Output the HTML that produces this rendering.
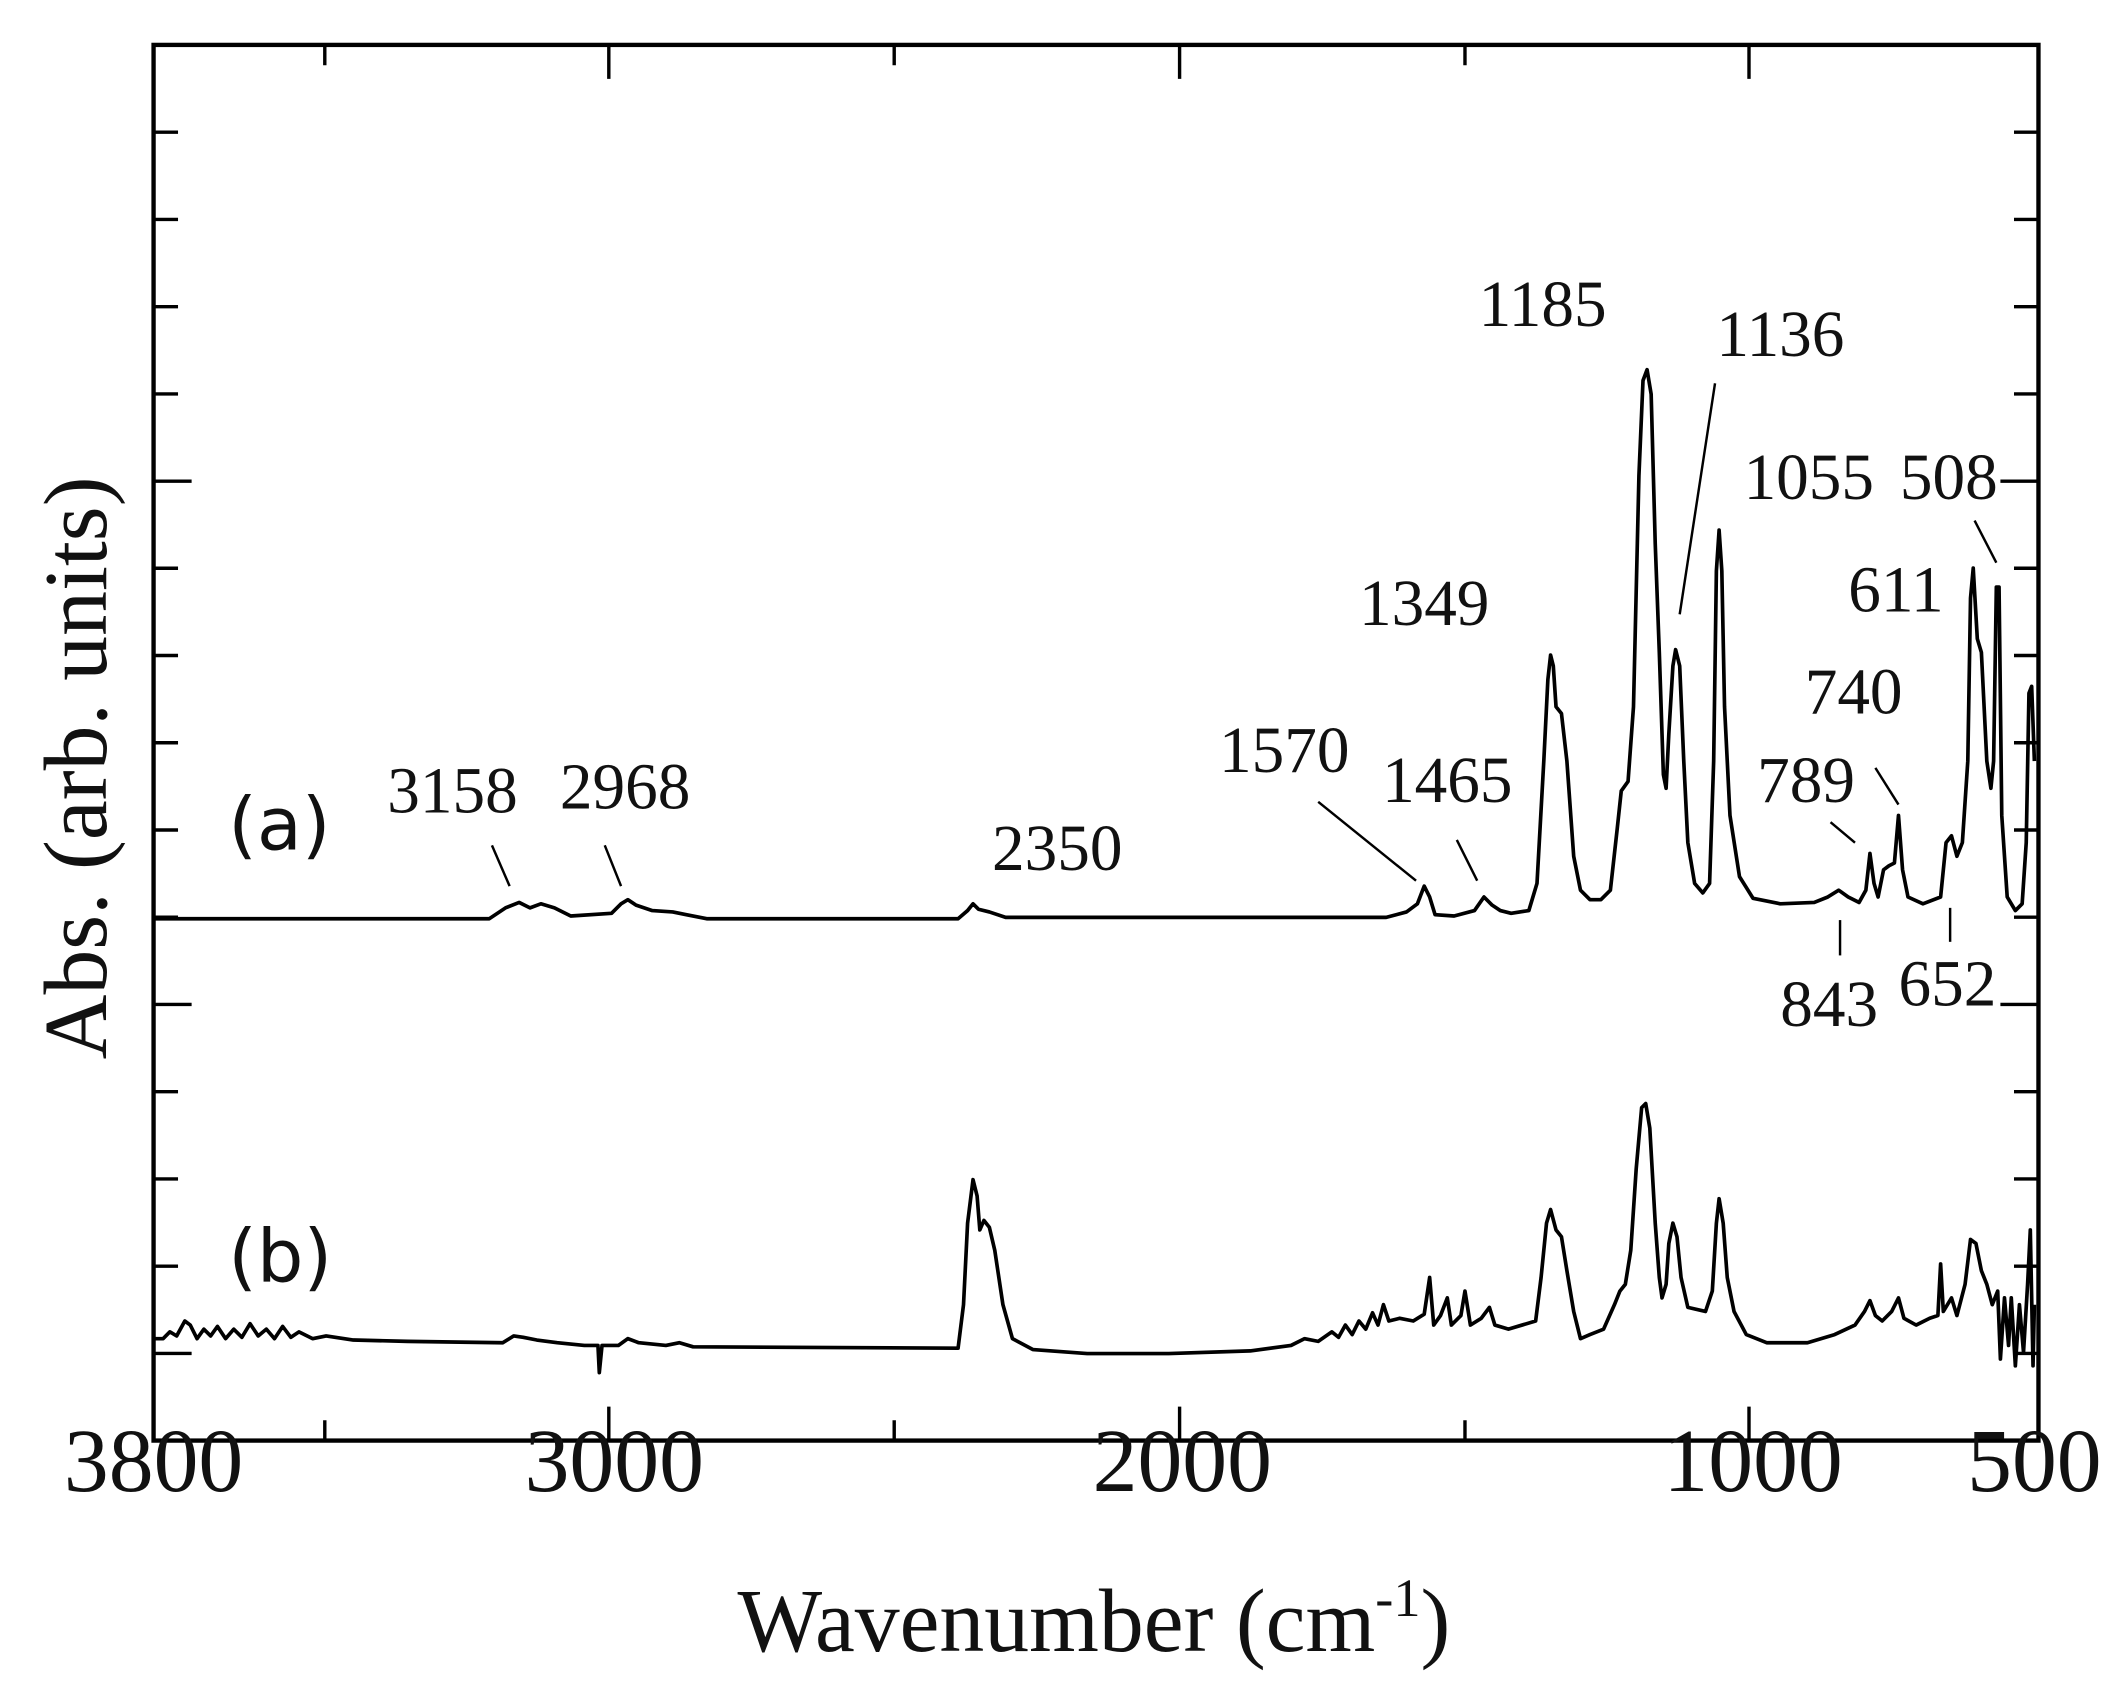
<!DOCTYPE html>
<html><head><meta charset="utf-8"><style>
html,body{margin:0;padding:0;background:#fff}
svg{display:block}
.s{font-family:"Liberation Serif",serif;fill:#111}
.d{font-family:"DejaVu Sans",sans-serif;fill:#111}
</style></head><body>
<svg width="2120" height="1707" viewBox="0 0 1560 1256" xmlns="http://www.w3.org/2000/svg">
<rect x="113" y="33" width="1387" height="1027" fill="none" stroke="#000" stroke-width="3.2"/>
<g stroke="#000" stroke-width="2.5">
<path d="M113 97.2h18M113 161.4h18M113 225.6h18M113 289.8h18M113 354h28M113 418.1h18M113 482.3h18M113 546.5h18M113 610.7h18M113 674.9h18M113 739.1h28M113 803.3h18M113 867.5h18M113 931.7h18M113 995.9h28"/>
<path d="M1500 97.2h-18M1500 161.4h-18M1500 225.6h-18M1500 289.8h-18M1500 354h-28M1500 418.1h-18M1500 482.3h-18M1500 546.5h-18M1500 610.7h-18M1500 674.9h-18M1500 739.1h-28M1500 803.3h-18M1500 867.5h-18M1500 931.7h-18M1500 995.9h-18"/>
<path d="M239 1060v-15M448 1060v-25M658 1060v-15M868 1060v-25M1078 1060v-15M1287 1060v-25M239 33v15M448 33v25M658 33v15M868 33v25M1078 33v15M1287 33v25"/>
</g>
<path fill="none" stroke="#000" stroke-width="2.7" stroke-linejoin="round" d="M113 676 L360 676 L372 668 L382 664 L390 668 L398 665 L408 668 L420 674 L450 672 L457 665 L462 662 L468 666 L480 670 L495 671 L505 673 L520 676 L705 676 L712 670 L716 665 L720 669 L728 671 L740 675 L1020 675 L1035 671 L1043 665 L1048 652 L1052 660 L1056 673 L1070 674 L1085 670 L1092 660 L1098 666 L1104 670 L1112 672 L1125 670 L1131 650 L1136 560 L1139 500 L1141 482 L1143 490 L1145 520 L1149 525 L1153 560 L1158 630 L1163 655 L1170 662 L1178 662 L1185 655 L1190 610 L1193 582 L1198 575 L1202 520 L1206 350 L1209 280 L1212 272 L1215 290 L1218 400 L1221 480 L1224 570 L1226 580 L1228 540 L1231 490 L1233 478 L1236 490 L1239 560 L1242 620 L1247 650 L1253 657 L1258 650 L1261 560 L1263 420 L1265 390 L1267 420 L1269 520 L1273 600 L1280 645 L1290 661 L1310 665 L1335 664 L1345 660 L1353 655 L1360 660 L1368 664 L1373 655 L1376 628 L1379 650 L1382 660 L1386 640 L1390 637 L1394 635 L1397 600 L1400 640 L1404 660 L1415 665 L1428 660 L1432 620 L1436 615 L1440 630 L1444 620 L1448 560 L1450 440 L1452 418 L1455 470 L1458 480 L1462 560 L1465 580 L1467 560 L1469 432 L1471 432 L1473 600 L1477 660 L1483 670 L1488 665 L1491 620 L1493 510 L1495 505 L1497 560"/>
<path fill="none" stroke="#000" stroke-width="2.7" stroke-linejoin="round" d="M113 985 L120 985 L125 980 L130 983 L136 972 L140 975 L145 985 L150 978 L155 983 L160 976 L166 985 L172 978 L178 984 L184 974 L190 983 L196 978 L202 985 L208 976 L214 984 L220 980 L230 985 L240 983 L260 986 L300 987 L370 988 L378 983 L385 984 L395 986 L410 988 L430 990 L440 990 L441 1010 L443 990 L455 990 L462 985 L470 988 L490 990 L500 988 L510 991 L705 992 L709 960 L712 900 L716 868 L719 880 L721 905 L724 898 L728 903 L732 920 L738 960 L745 985 L760 993 L800 996 L860 996 L920 994 L950 990 L960 985 L970 987 L980 980 L985 984 L990 975 L995 982 L1000 972 L1005 978 L1010 966 L1014 975 L1018 960 L1022 972 L1030 970 L1040 972 L1048 967 L1052 940 L1055 975 L1060 968 L1065 955 L1068 975 L1075 968 L1078 950 L1082 975 L1090 970 L1096 962 L1100 975 L1110 978 L1120 975 L1130 972 L1134 940 L1138 900 L1141 890 L1145 905 L1149 910 L1153 935 L1158 965 L1163 985 L1170 982 L1180 978 L1188 960 L1192 950 L1196 945 L1200 920 L1204 860 L1208 815 L1211 812 L1214 830 L1218 900 L1221 940 L1223 955 L1226 945 L1228 915 L1231 900 L1234 910 L1237 940 L1242 962 L1255 965 L1260 950 L1263 900 L1265 882 L1268 900 L1271 940 L1276 965 L1285 982 L1300 988 L1330 988 L1350 982 L1365 975 L1372 965 L1376 957 L1380 968 L1385 972 L1392 965 L1397 955 L1401 970 L1410 975 L1420 970 L1426 968 L1428 930 L1430 965 L1436 955 L1440 968 L1446 945 L1450 912 L1454 915 L1458 935 L1462 945 L1466 960 L1470 950 L1472 1000 L1475 955 L1478 990 L1480 955 L1483 1005 L1486 960 L1489 995 L1492 945 L1494 905 L1496 1005 L1497 960"/>
<g stroke="#000" stroke-width="1.8">
<line x1="362" y1="622" x2="375" y2="652"/><line x1="445" y1="622" x2="457" y2="652"/>
<line x1="970" y1="590" x2="1042" y2="648"/><line x1="1072" y1="618" x2="1087" y2="648"/>
<line x1="1262" y1="282" x2="1236" y2="452"/><line x1="1453" y1="383" x2="1469" y2="414"/>
<line x1="1380" y1="565" x2="1397" y2="592"/><line x1="1347" y1="605" x2="1365" y2="620"/>
<line x1="1354" y1="677" x2="1354" y2="703"/><line x1="1435" y1="668" x2="1435" y2="693"/>
</g>
<g class="s" font-size="48">
<text x="285" y="598">3158</text><text x="412" y="595">2968</text>
<text x="730" y="640">2350</text><text x="897" y="568">1570</text>
<text x="1017" y="590">1465</text><text x="1000" y="460">1349</text>
<text x="1088" y="240">1185</text><text x="1263" y="262">1136</text>
<text x="1283" y="367">1055</text><text x="1398" y="367">508</text>
<text x="1360" y="450">611</text><text x="1328" y="525">740</text>
<text x="1293" y="590">789</text><text x="1310" y="755">843</text>
<text x="1397" y="740">652</text>
</g>
<text class="d" x="168" y="625" font-size="54">(a)</text>
<text class="d" x="168" y="943" font-size="54">(b)</text>
<g class="s" font-size="66" text-anchor="middle">
<text x="113" y="1097">3800</text><text x="452" y="1097">3000</text>
<text x="870" y="1097">2000</text><text x="1290" y="1097">1000</text>
<text x="1497" y="1097">500</text>
<text x="805" y="1215">Wavenumber (cm<tspan font-size="40" dy="-26">-1</tspan><tspan dy="26">)</tspan></text>
<text transform="translate(78,565) rotate(-90)">Abs. (arb. units)</text>
</g>
</svg>
</body></html>
